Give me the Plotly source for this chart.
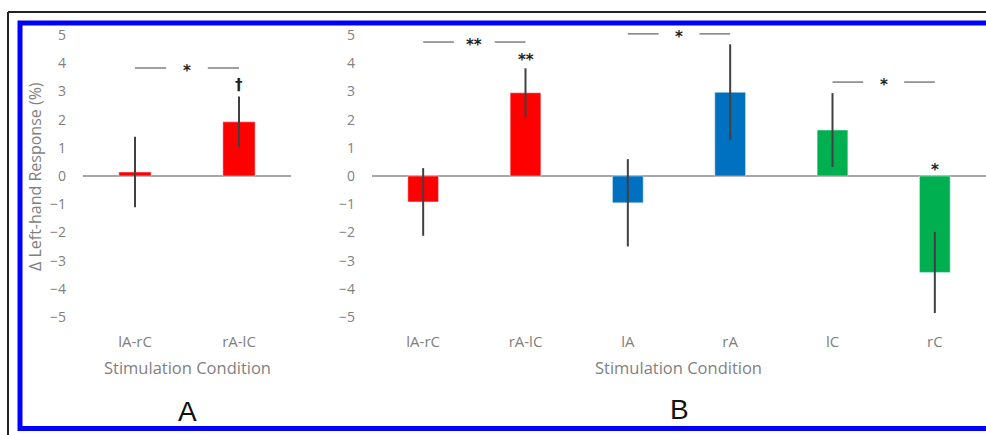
import plotly.graph_objects as go

W, H = 986, 435

# ---- data ----
cats_a = ["lA-rC", "rA-lC"]
vals_a = [0.14, 1.92]
errs_a = [1.25, 0.9]
cols_a = ["#FF0000", "#FF0000"]

cats_b = ["lA-rC", "rA-lC", "lA", "rA", "lC", "rC"]
vals_b = [-0.92, 2.95, -0.95, 2.97, 1.63, -3.42]
errs_b = [1.2, 0.87, 1.55, 1.7, 1.31, 1.44]
cols_b = ["#FF0000", "#FF0000", "#0070C0", "#0070C0", "#00B050", "#00B050"]

y_ticks = [5, 4, 3, 2, 1, 0, -1, -2, -3, -4, -5]
y_title = "Δ Left-hand Response (%)"
x_title = "Stimulation Condition"

# significance brackets: (axis, x0, x1, y, label)
brackets = [
    ("a", 0, 1, 3.83, "*"),
    ("b", 0, 1, 4.75, "**"),
    ("b", 2, 3, 5.04, "*"),
    ("b", 4, 5, 3.33, "*"),
]
# markers above single bars: (axis, x, y, label)
markers = [
    ("a", 1, 3.33, "†"),
    ("b", 1, 4.22, "**"),
    ("b", 5, 0.32, "*"),
]

def px(x):
    return x / W

def py(y):
    return 1 - y / H

FONT = "Open Sans"
TXT = "#7f7f7f"
ERR = "#404040"

fig = go.Figure()
fig.add_trace(go.Bar(
    x=list(range(len(cats_a))), y=vals_a, marker_color=cols_a, width=0.31,
    error_y=dict(type="data", array=errs_a, color=ERR, thickness=2, width=0),
    xaxis="x", yaxis="y", showlegend=False))
fig.add_trace(go.Bar(
    x=list(range(len(cats_b))), y=vals_b, marker_color=cols_b, width=0.30,
    error_y=dict(type="data", array=errs_b, color=ERR, thickness=2, width=0),
    xaxis="x2", yaxis="y2", showlegend=False))

yrange = [-5.5, 5.5]
ydom = [py(331.1), py(20.9)]
common_y = dict(range=yrange, domain=ydom, tickvals=y_ticks, showgrid=False,
                zeroline=True, zerolinecolor="#a6a6a6", zerolinewidth=1.5,
                showline=False, ticks="", ticklabelstandoff=16,
                tickfont=dict(family=FONT, size=14, color=TXT))
common_x = dict(showgrid=False, zeroline=False, showline=False, ticks="",
                tickfont=dict(family=FONT, size=15, color=TXT))

fig.update_layout(
    width=W, height=H, margin=dict(l=0, r=0, t=0, b=0),
    paper_bgcolor="white", plot_bgcolor="white",
    xaxis=dict(domain=[px(83), px(291)], range=[-0.5, 1.5],
               tickvals=list(range(len(cats_a))), ticktext=cats_a, anchor="y", **common_x),
    yaxis=dict(anchor="x", **common_y),
    xaxis2=dict(domain=[px(372), 1.0], range=[-0.5, 5.5],
                tickvals=list(range(len(cats_b))), ticktext=cats_b, anchor="y2", **common_x),
    yaxis2=dict(anchor="x2", **common_y),
)

ann = []
shapes = []
STAR = dict(family="DejaVu Sans", size=15, color="#222222")
for ax, x0, x1, y, lab in brackets:
    xr = "x" if ax == "a" else "x2"
    yr = "y" if ax == "a" else "y2"
    span = x1 - x0
    for a, b in [(x0, x0 + 0.3 * span), (x0 + 0.7 * span, x1)]:
        shapes.append(dict(type="line", xref=xr, yref=yr, x0=a, x1=b, y0=y, y1=y,
                           line=dict(color="#7f7f7f", width=1.5)))
    ann.append(dict(xref=xr, yref=yr, x=(x0 + x1) / 2, y=y - 0.1, text="<b>" + lab + "</b>",
                    showarrow=False, font=STAR, xanchor="center", yanchor="middle"))
for ax, x, y, lab in markers:
    xr = "x" if ax == "a" else "x2"
    yr = "y" if ax == "a" else "y2"
    ann.append(dict(xref=xr, yref=yr, x=x, y=y - 0.1, text="<b>" + lab + "</b>",
                    showarrow=False, font=STAR, xanchor="center", yanchor="middle"))

def lbl(x, y, text, size, color, family=FONT, angle=0):
    return dict(xref="paper", yref="paper", x=px(x), y=py(y), text=text,
                textangle=angle, showarrow=False, xanchor="center", yanchor="middle",
                font=dict(family=family, size=size, color=color))

ann.append(lbl(35, 177, y_title, 16, TXT, angle=-90))
ann.append(lbl(187, 367, x_title, 16.5, TXT))
ann.append(lbl(678, 367, x_title, 16.5, TXT))
ann.append(lbl(187, 411, "A", 28, "#111111", family="Liberation Sans"))
ann.append(lbl(679, 409, "B", 28, "#111111", family="Liberation Sans"))

# frame borders
shapes.append(dict(type="line", xref="paper", yref="paper", x0=px(8), x1=px(8),
                   y0=-0.01, y1=py(12), line=dict(color="#222222", width=2)))
shapes.append(dict(type="line", xref="paper", yref="paper", x0=px(8), x1=1.01,
                   y0=py(12), y1=py(12), line=dict(color="#222222", width=2)))
shapes.append(dict(type="rect", xref="paper", yref="paper", x0=px(20), x1=px(1000),
                   y0=py(428.5), y1=py(23), line=dict(color="#0000FF", width=5)))

fig.update_layout(annotations=ann, shapes=shapes)
fig.write_html("out.html", config={"displayModeBar": False},
               post_script="document.body.style.margin='0';")
